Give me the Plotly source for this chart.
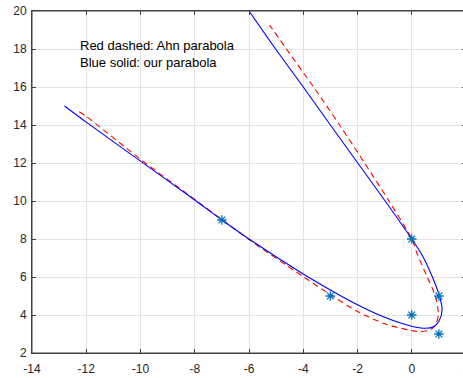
import plotly.graph_objects as go

# Data points (asterisks)
pts_x = [-7, -3, 0, 0, 1, 1]
pts_y = [9, 5, 4, 8, 5, 3]

# Blue solid: "our parabola"
blue_x = [-12.8, -12, -10, -8, -7, -6, -4, -3, -2, -1, 0, 0.51, 0.82, 1.0, 1.12,
          1.02, 0.76, 0.37, 0, -0.98, -1.99, -3.0, -4.0, -5.02, -6.0]
blue_y = [15.0, 14.15, 12.1, 10.05, 9.0, 8.0, 6.16, 5.32, 4.54, 3.88, 3.41, 3.30, 3.40, 3.67, 4.28,
          5.0, 6.0, 7.18, 8.0, 10, 12, 14, 16, 18, 20]

# Red dashed: "Ahn parabola"
red_x = [-12.26, -12, -10, -8, -7, -6, -4, -3, -2, -1, 0, 0.33, 0.7, 0.88, 0.98,
         0.87, 0.57, 0.21, 0, -0.84, -1.74, -2.66, -3.62, -4.62, -5.24]
red_y = [14.7, 14.45, 12.2, 10.08, 9.02, 7.97, 6.02, 5.07, 4.19, 3.54, 3.18, 3.12, 3.23, 3.49, 4.0,
         5.0, 6.0, 7.18, 8.0, 10, 12, 14, 16, 18, 19.26]

x_ticks = list(range(-14, 3, 2))
x_tick_text = [str(v) for v in x_ticks]
y_ticks = list(range(2, 21, 2))
y_tick_text = [str(v) for v in y_ticks]
note_lines = ["Red dashed: Ahn parabola", "Blue solid: our parabola"]

FONT = "Liberation Sans, Arial, sans-serif"
AX = "#404040"

fig = go.Figure()
fig.add_trace(go.Scatter(x=red_x, y=red_y, mode="lines",
                         line=dict(color="#FF0000", width=1.1, dash="6px,4px", shape="spline", smoothing=0.8),
                         showlegend=False, hoverinfo="skip"))
fig.add_trace(go.Scatter(x=blue_x, y=blue_y, mode="lines",
                         line=dict(color="#0000FF", width=1.1, shape="spline", smoothing=0.8),
                         showlegend=False, hoverinfo="skip"))
fig.add_trace(go.Scatter(x=pts_x, y=pts_y, mode="markers",
                         marker=dict(symbol="asterisk-open", size=8, color="#0072BD",
                                     line=dict(color="#0072BD", width=1.3)),
                         showlegend=False))
# empty trace so the top/right tick axes are drawn
fig.add_trace(go.Scatter(x=[None], y=[None], xaxis="x2", yaxis="y2", mode="markers",
                         showlegend=False, hoverinfo="skip"))

fig.add_annotation(x=-12.3, y=17.75, xref="x", yref="y", xanchor="left", yanchor="middle",
                   text="<br>".join(note_lines), showarrow=False, align="left",
                   font=dict(family=FONT, size=13, color="#000000"))

# plot box outline
fig.add_shape(type="rect", xref="paper", yref="paper", x0=0, x1=1, y0=0, y1=1,
              line=dict(color=AX, width=1), fillcolor="rgba(0,0,0,0)", layer="above")

axis_common = dict(showgrid=True, gridcolor="#e3e3e3", gridwidth=1, zeroline=False,
                   ticks="inside", ticklen=4, tickcolor=AX, tickwidth=1,
                   showline=True, linecolor=AX, linewidth=1,
                   ticklabeloverflow="allow",
                   tickfont=dict(family=FONT, size=12, color="#262626"))

fig.update_layout(
    width=466, height=378,
    margin=dict(l=32, r=0, t=11, b=25, autoexpand=False),
    paper_bgcolor="white", plot_bgcolor="white",
    xaxis=dict(range=[-14, 2], tickvals=x_ticks, ticktext=x_tick_text, mirror=False,
               automargin=False, ticklabelstandoff=5, **axis_common),
    yaxis=dict(range=[2, 20], tickvals=y_ticks, ticktext=y_tick_text, mirror=False,
               automargin=False, ticklabelstandoff=2, **axis_common),
    xaxis2=dict(range=[-14, 2], overlaying="x", side="top", tickvals=x_ticks, showticklabels=False,
                ticks="inside", ticklen=4, tickcolor=AX, showline=True, linecolor=AX, linewidth=1,
                showgrid=False, zeroline=False, automargin=False),
    yaxis2=dict(range=[2, 20], overlaying="y", side="right", tickvals=y_ticks, showticklabels=False,
                ticks="inside", ticklen=4, tickcolor=AX, showline=False, showgrid=False,
                zeroline=False, automargin=False),
)

fig.write_html("out.html", config={"displayModeBar": False, "staticPlot": True},
               post_script="document.body.style.margin='0px';document.body.style.overflow='hidden';")
